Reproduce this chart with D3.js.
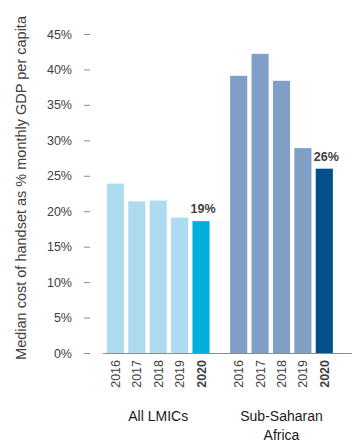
<!DOCTYPE html>
<html>
<head>
<meta charset="utf-8">
<script src="https://cdn.jsdelivr.net/npm/d3@7"></script>
<style>
  body { margin: 0; background: #fff; }
  text { font-family: "Liberation Sans", Arial, sans-serif; }
</style>
</head>
<body>
<svg id="chart" width="352" height="446"></svg>
<script>
const groups = ["All LMICs", "Sub-Saharan Africa"];
const years = ["2016", "2017", "2018", "2019", "2020"];
const lmicValues = [23.9, 21.4, 21.5, 19.1, 18.6];
const ssaValues = [39.1, 42.2, 38.4, 28.9, 26.0];
const yTicks = [0, 5, 10, 15, 20, 25, 30, 35, 40, 45];
const highlightLabels = ["19%", "26%"];

const colors = {
    "All LMICs": { normal: "#addcf0", last: "#00b0da" },
    "Sub-Saharan Africa": { normal: "#7f9fc6", last: "#00508a" }
};

const data = [];
years.forEach((y, i) => data.push({ group: groups[0], year: y, value: lmicValues[i] }));
years.forEach((y, i) => data.push({ group: groups[1], year: y, value: ssaValues[i] }));

const svg = d3.select('#chart');
const baseY = 353;
const topY = 34;

/**
 * Scales
 */
const yScale = d3.scaleLinear().domain([0, 45]).range([baseY, topY]);

const xGroup = d3.scaleBand()
    .domain(groups)
    .range([104.7, 335])
    .paddingInner(0.132)
    .paddingOuter(0);

const xYear = d3.scaleBand()
    .domain(years)
    .range([0, xGroup.bandwidth()])
    .paddingInner(0.2)
    .paddingOuter(0.1);

/**
 * Y axis
 */
const yAxis = d3.axisLeft(yScale)
    .tickValues(yTicks)
    .tickSize(6)
    .tickPadding(12)
    .tickFormat((d) => d + '%');

const gY = svg.append('g')
    .attr('transform', 'translate(90,0)')
    .call(yAxis);
gY.select('.domain').remove();
gY.selectAll('line').attr('stroke', '#8c8c8c');
gY.selectAll('text')
    .attr('fill', '#404040')
    .style('font-size', '12.5px')
    .style('font-family', '"Liberation Sans", Arial, sans-serif');

/**
 * Bars
 */
svg.append('g')
    .selectAll('rect')
    .data(data)
    .enter()
    .append('rect')
    .attr('x', (d) => xGroup(d.group) + xYear(d.year))
    .attr('y', (d) => yScale(d.value))
    .attr('width', xYear.bandwidth())
    .attr('height', (d) => baseY - yScale(d.value))
    .attr('fill', (d) => d.year === '2020' ? colors[d.group].last : colors[d.group].normal);

/**
 * Baseline
 */
svg.append('line')
    .attr('x1', 103)
    .attr('x2', 352)
    .attr('y1', baseY + 0.5)
    .attr('y2', baseY + 0.5)
    .attr('stroke', '#8c8c8c')
    .attr('stroke-width', 1);

/**
 * Year labels (rotated)
 */
svg.append('g')
    .selectAll('text')
    .data(data)
    .enter()
    .append('text')
    .attr('transform', (d) => {
        const cx = xGroup(d.group) + xYear(d.year) + xYear.bandwidth() / 2;
        return 'translate(' + (cx + 4.5) + ',' + (baseY + 7) + ') rotate(-90)';
    })
    .attr('text-anchor', 'end')
    .style('font-size', '12.5px')
    .style('font-weight', (d) => d.year === '2020' ? 'bold' : 'normal')
    .attr('fill', '#404040')
    .text((d) => d.year);

/**
 * Value labels on 2020 bars
 */
const lastBars = data.filter((d) => d.year === '2020');
svg.append('g')
    .selectAll('text')
    .data(lastBars)
    .enter()
    .append('text')
    .attr('x', (d) => xGroup(d.group) + xYear(d.year) + xYear.bandwidth() / 2 + 2)
    .attr('y', (d) => yScale(d.value) - 8)
    .attr('text-anchor', 'middle')
    .style('font-size', '12.5px')
    .style('font-weight', 'bold')
    .attr('fill', '#404040')
    .text((d, i) => highlightLabels[i]);

/**
 * Group labels
 */
const groupLines = { "All LMICs": ["All LMICs"], "Sub-Saharan Africa": ["Sub-Saharan", "Africa"] };
groups.forEach((g) => {
    const t = svg.append('text')
        .attr('x', xGroup(g) + xGroup.bandwidth() / 2)
        .attr('y', 421)
        .attr('text-anchor', 'middle')
        .style('font-size', '14px')
        .attr('fill', '#1a1a1a');
    groupLines[g].forEach((line, i) => {
        t.append('tspan')
            .attr('x', xGroup(g) + xGroup.bandwidth() / 2)
            .attr('dy', i === 0 ? 0 : 19)
            .text(line);
    });
});

/**
 * Y axis title
 */
svg.append('text')
    .attr('transform', 'translate(26,188) rotate(-90)')
    .attr('text-anchor', 'middle')
    .style('font-size', '14.5px')
    .attr('fill', '#404040')
    .text('Median cost of handset as % monthly GDP per capita');
</script>
</body>
</html>
